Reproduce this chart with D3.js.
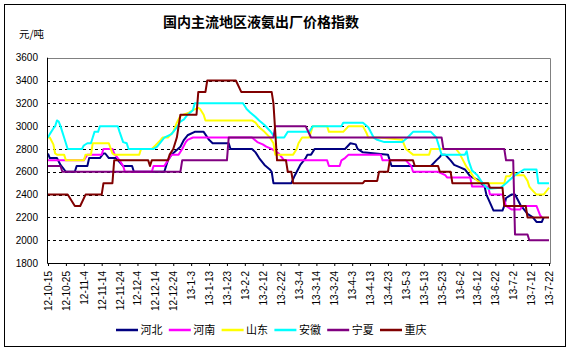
<!DOCTYPE html>
<html>
<head>
<meta charset="utf-8">
<script src="https://cdn.jsdelivr.net/npm/d3@7"></script>
<style>
  html, body { margin: 0; padding: 0; background: #fff; }
  svg { display: block; }
</style>
</head>
<body>
<svg id="chart" width="573" height="353"></svg>
<script>
// 国内主流地区液氨出厂价格指数 - 折线图

const tickLabels = ['12-10-15', '12-10-25', '12-11-4', '12-11-14', '12-11-24', '12-12-4', '12-12-14',
  '12-12-24', '13-1-3', '13-1-13', '13-1-23', '13-2-2', '13-2-12', '13-2-22', '13-3-4', '13-3-14',
  '13-3-24', '13-4-3', '13-4-13', '13-4-23', '13-5-3', '13-5-13', '13-5-23', '13-6-2', '13-6-12',
  '13-6-22', '13-7-2', '13-7-12', '13-7-22'];

const yTicks = [1800, 2000, 2200, 2400, 2600, 2800, 3000, 3200, 3400, 3600];

const seriesNames = ['河北', '河南', '山东', '安徽', '宁夏', '重庆'];

const hebei = [['12-10-15', 2760], ['12-10-16', 2720], ['12-10-20', 2720], ['12-10-22', 2660], ['12-10-25', 2600],
  ['12-10-30', 2600], ['12-10-31', 2650], ['12-11-6', 2650], ['12-11-7', 2720], ['12-11-13', 2720],
  ['12-11-15', 2760], ['12-11-16', 2760], ['12-11-18', 2720], ['12-11-22', 2720], ['12-11-26', 2650],
  ['12-12-1', 2650], ['12-12-2', 2600], ['12-12-19', 2600], ['12-12-21', 2700], ['12-12-23', 2750],
  ['12-12-28', 2820], ['12-12-30', 2880], ['13-1-1', 2920], ['13-1-5', 2950], ['13-1-10', 2950],
  ['13-1-13', 2880], ['13-1-15', 2850], ['13-1-24', 2850], ['13-1-25', 2800], ['13-2-6', 2800],
  ['13-2-8', 2770], ['13-2-10', 2720], ['13-2-13', 2660], ['13-2-16', 2620], ['13-2-17', 2600],
  ['13-2-18', 2500], ['13-2-28', 2500], ['13-3-2', 2570], ['13-3-5', 2660], ['13-3-8', 2720],
  ['13-3-9', 2750], ['13-3-11', 2750], ['13-3-13', 2800], ['13-3-30', 2800], ['13-4-2', 2850],
  ['13-4-5', 2840], ['13-4-6', 2800], ['13-4-9', 2770], ['13-4-23', 2750], ['13-4-24', 2700],
  ['13-4-25', 2650], ['13-5-17', 2650], ['13-5-20', 2700], ['13-5-22', 2730], ['13-5-23', 2750],
  ['13-5-25', 2750], ['13-5-28', 2700], ['13-5-30', 2660], ['13-6-2', 2640], ['13-6-5', 2620],
  ['13-6-8', 2560], ['13-6-12', 2530], ['13-6-16', 2470], ['13-6-17', 2400], ['13-6-19', 2330],
  ['13-6-21', 2260], ['13-6-26', 2260], ['13-6-27', 2300], ['13-6-28', 2370], ['13-7-1', 2400],
  ['13-7-3', 2400], ['13-7-6', 2310], ['13-7-8', 2270], ['13-7-10', 2230], ['13-7-13', 2200],
  ['13-7-15', 2160], ['13-7-18', 2160], ['13-7-19', 2200]];

const henan = [['12-10-15', 2700], ['12-11-4', 2700], ['12-11-6', 2750], ['12-11-14', 2750], ['12-11-15', 2800],
  ['12-11-20', 2800], ['12-11-21', 2760], ['12-11-24', 2700], ['12-11-26', 2650], ['12-11-27', 2600],
  ['12-12-12', 2600], ['12-12-13', 2650], ['12-12-19', 2650], ['12-12-21', 2700], ['12-12-23', 2750],
  ['12-12-27', 2750], ['12-12-29', 2800], ['12-12-31', 2860], ['13-1-1', 2880], ['13-1-4', 2900],
  ['13-2-6', 2900], ['13-2-9', 2860], ['13-2-12', 2840], ['13-2-14', 2820], ['13-2-17', 2800],
  ['13-2-21', 2760], ['13-2-22', 2740], ['13-2-24', 2700], ['13-3-20', 2700], ['13-3-21', 2650],
  ['13-3-27', 2650], ['13-3-28', 2700], ['13-3-30', 2720], ['13-4-1', 2750], ['13-4-19', 2750],
  ['13-4-20', 2700], ['13-5-3', 2700], ['13-5-6', 2650], ['13-5-7', 2600], ['13-5-21', 2600],
  ['13-5-25', 2570], ['13-5-26', 2550], ['13-6-8', 2550], ['13-6-9', 2470], ['13-6-18', 2470],
  ['13-6-19', 2400], ['13-6-26', 2400], ['13-6-28', 2300], ['13-7-1', 2270], ['13-7-6', 2270],
  ['13-7-7', 2300], ['13-7-15', 2300], ['13-7-17', 2220], ['13-7-18', 2200]];

const shandong = [['12-10-15', 2900], ['12-10-16', 2900], ['12-10-18', 2840], ['12-10-19', 2760], ['12-10-20', 2750],
  ['12-10-24', 2750], ['12-10-25', 2700], ['12-11-4', 2700], ['12-11-5', 2750], ['12-11-8', 2750],
  ['12-11-9', 2850], ['12-11-18', 2850], ['12-11-20', 2760], ['12-11-21', 2750], ['12-12-5', 2750],
  ['12-12-6', 2800], ['12-12-12', 2800], ['12-12-14', 2830], ['12-12-17', 2880], ['12-12-18', 2900],
  ['12-12-21', 2900], ['12-12-24', 2950], ['12-12-26', 3030], ['12-12-28', 3090], ['13-1-2', 3120],
  ['13-1-4', 3140], ['13-1-7', 3160], ['13-1-8', 3150], ['13-1-10', 3100], ['13-1-11', 3050],
  ['13-2-6', 3050], ['13-2-8', 3030], ['13-2-10', 2990], ['13-2-13', 2950], ['13-2-16', 2900],
  ['13-2-18', 2850], ['13-2-19', 2750], ['13-3-1', 2750], ['13-3-3', 2800], ['13-3-4', 2850],
  ['13-3-6', 2900], ['13-3-10', 2900], ['13-3-12', 3000], ['13-3-20', 3000], ['13-3-21', 2950],
  ['13-3-29', 2950], ['13-4-1', 3000], ['13-4-9', 3000], ['13-4-11', 2940], ['13-4-12', 2900],
  ['13-4-18', 2900], ['13-5-1', 2880], ['13-5-3', 2800], ['13-5-7', 2750], ['13-5-16', 2750],
  ['13-5-17', 2800], ['13-5-31', 2800], ['13-6-2', 2760], ['13-6-4', 2700], ['13-6-6', 2640],
  ['13-6-8', 2600], ['13-6-10', 2550], ['13-6-12', 2520], ['13-6-14', 2500], ['13-6-27', 2500],
  ['13-6-28', 2560], ['13-6-30', 2560], ['13-7-2', 2600], ['13-7-4', 2570], ['13-7-8', 2570],
  ['13-7-10', 2520], ['13-7-11', 2470], ['13-7-12', 2450], ['13-7-15', 2400], ['13-7-19', 2400],
  ['13-7-21', 2440], ['13-7-22', 2460]];

const anhui = [['12-10-15', 2900], ['12-10-16', 2930], ['12-10-18', 2980], ['12-10-19', 3000], ['12-10-20', 3050],
  ['12-10-21', 3040], ['12-10-22', 3000], ['12-10-23', 2950], ['12-10-24', 2900], ['12-10-25', 2850],
  ['12-10-26', 2800], ['12-11-3', 2800], ['12-11-4', 2830], ['12-11-6', 2850], ['12-11-8', 2850],
  ['12-11-9', 2900], ['12-11-10', 2950], ['12-11-12', 2950], ['12-11-13', 3000], ['12-11-23', 3000],
  ['12-11-24', 2950], ['12-11-26', 2860], ['12-11-28', 2850], ['12-11-29', 2800], ['12-12-13', 2800],
  ['12-12-15', 2820], ['12-12-17', 2860], ['12-12-19', 2900], ['12-12-23', 2930], ['12-12-26', 2990],
  ['12-12-28', 3040], ['12-12-30', 3060], ['13-1-1', 3100], ['13-1-4', 3140], ['13-1-5', 3200],
  ['13-2-1', 3200], ['13-2-3', 3150], ['13-2-5', 3120], ['13-2-8', 3080], ['13-2-10', 3050],
  ['13-2-13', 3010], ['13-2-16', 2960], ['13-2-18', 2920], ['13-2-19', 2900], ['13-2-24', 2900],
  ['13-2-26', 2950], ['13-3-10', 2950], ['13-3-12', 3000], ['13-3-28', 3000], ['13-3-29', 3030],
  ['13-4-9', 3030], ['13-4-12', 2990], ['13-4-15', 2900], ['13-4-17', 2880], ['13-4-21', 2860],
  ['13-5-1', 2860], ['13-5-4', 2900], ['13-5-7', 2950], ['13-5-17', 2950], ['13-5-20', 2900],
  ['13-5-22', 2800], ['13-5-23', 2750], ['13-6-5', 2750], ['13-6-6', 2780], ['13-6-7', 2700],
  ['13-6-9', 2610], ['13-6-12', 2570], ['13-6-14', 2520], ['13-6-16', 2480], ['13-6-18', 2450],
  ['13-6-25', 2460], ['13-6-28', 2500], ['13-7-3', 2570], ['13-7-6', 2600], ['13-7-8', 2620],
  ['13-7-15', 2620], ['13-7-16', 2500], ['13-7-22', 2500]];

const ningxia = [['12-10-15', 2650], ['12-10-22', 2650], ['12-10-23', 2600], ['12-12-28', 2600], ['12-12-29', 2700],
  ['13-1-23', 2700], ['13-1-24', 2900], ['13-2-18', 2900], ['13-2-19', 3000], ['13-3-8', 3000],
  ['13-3-11', 2900], ['13-5-23', 2900], ['13-5-24', 2800], ['13-6-27', 2800], ['13-6-28', 2700],
  ['13-7-2', 2700], ['13-7-3', 2050], ['13-7-10', 2050], ['13-7-11', 2000], ['13-7-22', 2000]];

const chongqing = [['12-10-15', 2400], ['12-10-26', 2400], ['12-10-30', 2300], ['12-11-2', 2300], ['12-11-5', 2400],
  ['12-11-14', 2400], ['12-11-15', 2500], ['12-11-20', 2500], ['12-11-21', 2700], ['12-12-10', 2700],
  ['12-12-11', 2650], ['12-12-12', 2700], ['12-12-21', 2700], ['12-12-22', 2750], ['12-12-24', 2800],
  ['12-12-26', 2900], ['12-12-27', 3000], ['12-12-28', 3100], ['13-1-6', 3100], ['13-1-7', 3300],
  ['13-1-11', 3300], ['13-1-12', 3400], ['13-1-28', 3400], ['13-1-31', 3300], ['13-2-17', 3300],
  ['13-2-18', 3200], ['13-2-20', 2700], ['13-2-25', 2700], ['13-2-26', 2600], ['13-2-28', 2600],
  ['13-3-1', 2500], ['13-4-9', 2500], ['13-4-10', 2520], ['13-4-17', 2520], ['13-4-18', 2600],
  ['13-4-23', 2600], ['13-4-24', 2700], ['13-5-7', 2700], ['13-5-8', 2650], ['13-5-21', 2650],
  ['13-5-22', 2600], ['13-5-28', 2600], ['13-5-29', 2500], ['13-6-18', 2500], ['13-6-19', 2460],
  ['13-6-26', 2460], ['13-6-27', 2300], ['13-7-9', 2300], ['13-7-10', 2200], ['13-7-22', 2200]];

const seriesData = [hebei, henan, shandong, anhui, ningxia, chongqing];
const seriesColors = ['#000080', '#FF00FF', '#FFFF00', '#00FFFF', '#800080', '#800000'];

const parseDate = d3.timeParse('%y-%m-%d');
const latinFont = '"Liberation Sans", Arial, "Noto Sans CJK SC", sans-serif';
const cjkFont = '"Noto Sans CJK SC", "Liberation Sans", sans-serif';

function renderChart() {
  const svg = d3.select('#chart');
  svg.html('');

  const plot = { left: 47, right: 550, top: 57.7, bottom: 263 };

  const tickDates = tickLabels.map(parseDate);

  const xScale = d3.scaleTime()
    .domain([tickDates[0], tickDates[tickDates.length - 1]])
    .range([48, 549]);

  const yScale = d3.scaleLinear()
    .domain([1800, 3600])
    .range([plot.bottom, plot.top]);

  // outer frame
  svg.append('rect')
    .attr('x', 4.5)
    .attr('y', 4.5)
    .attr('width', 561)
    .attr('height', 342)
    .attr('fill', '#fff')
    .attr('stroke', '#000')
    .attr('stroke-width', 1);

  // title
  svg.append('text')
    .attr('x', 261)
    .attr('y', 27)
    .attr('text-anchor', 'middle')
    .attr('font-family', cjkFont)
    .attr('font-size', '14px')
    .attr('font-weight', 'bold')
    .attr('fill', '#000')
    .text('国内主流地区液氨出厂价格指数');

  svg.append('text')
    .attr('x', 19)
    .attr('y', 38)
    .attr('font-family', cjkFont)
    .attr('font-size', '10.5px')
    .attr('fill', '#000')
    .text('元/吨');

  // gridlines
  svg.append('g')
    .selectAll('line')
    .data(yTicks.filter(v => v > 1800 && v < 3600))
    .enter()
    .append('line')
    .attr('x1', plot.left)
    .attr('x2', plot.right)
    .attr('y1', d => Math.round(yScale(d)) + 0.5)
    .attr('y2', d => Math.round(yScale(d)) + 0.5)
    .attr('stroke', '#000')
    .attr('stroke-width', 1)
    .attr('stroke-dasharray', '3,3');

  // plot border top / right (gray)
  svg.append('path')
    .attr('d', `M${plot.left},${Math.round(plot.top) + 0.5}H${plot.right + 0.5}V${plot.bottom}`)
    .attr('fill', 'none')
    .attr('stroke', '#808080')
    .attr('stroke-width', 1);

  // y axis
  const yAxis = svg.append('g')
    .attr('transform', `translate(${plot.left},0)`)
    .call(d3.axisLeft(yScale).tickValues(yTicks).tickSize(0).tickPadding(9).tickFormat(d3.format('d')));
  yAxis.select('.domain').remove();
  yAxis.selectAll('text')
    .attr('font-family', latinFont)
    .attr('font-size', '10px')
    .attr('fill', '#000');

  // x axis
  const xAxis = svg.append('g')
    .attr('transform', `translate(0,${plot.bottom})`)
    .call(d3.axisBottom(xScale)
      .tickValues(tickDates)
      .tickSize(3)
      .tickFormat((d, i) => tickLabels[i]));
  xAxis.select('.domain').remove();
  xAxis.selectAll('line').attr('stroke', '#000');
  xAxis.selectAll('text')
    .attr('font-family', latinFont)
    .attr('font-size', '10px')
    .attr('fill', '#000')
    .attr('text-anchor', 'end')
    .attr('transform', 'rotate(-90)')
    .attr('x', -8)
    .attr('y', 0)
    .attr('dy', '0.35em');

  // series lines
  const line = d3.line()
    .x(d => xScale(parseDate(d[0])))
    .y(d => yScale(d[1]));

  svg.append('g')
    .selectAll('path')
    .data(seriesData)
    .enter()
    .append('path')
    .attr('d', d => line(d))
    .attr('fill', 'none')
    .attr('stroke', (d, i) => seriesColors[i])
    .attr('stroke-width', 2)
    .attr('stroke-linejoin', 'round');

  // axis lines
  svg.append('path')
    .attr('d', `M${plot.left + 0.5},${plot.top}V${plot.bottom + 0.5}H${plot.right + 0.5}`)
    .attr('fill', 'none')
    .attr('stroke', '#000')
    .attr('stroke-width', 1);

  // legend
  const legend = svg.append('g')
    .attr('transform', 'translate(116,330)');

  const item = legend.selectAll('.legend-item')
    .data(seriesNames)
    .enter()
    .append('g')
    .attr('class', 'legend-item')
    .attr('transform', (d, i) => `translate(${i * 52.8},0)`);

  item.append('line')
    .attr('x1', 0)
    .attr('x2', 22)
    .attr('y1', 0)
    .attr('y2', 0)
    .attr('stroke', (d, i) => seriesColors[i])
    .attr('stroke-width', 2.5);

  item.append('text')
    .attr('x', 24.5)
    .attr('y', 0)
    .attr('dy', '0.36em')
    .attr('font-family', cjkFont)
    .attr('font-size', '11px')
    .attr('fill', '#000')
    .text(d => d);
}

renderChart();
</script>
</body>
</html>
